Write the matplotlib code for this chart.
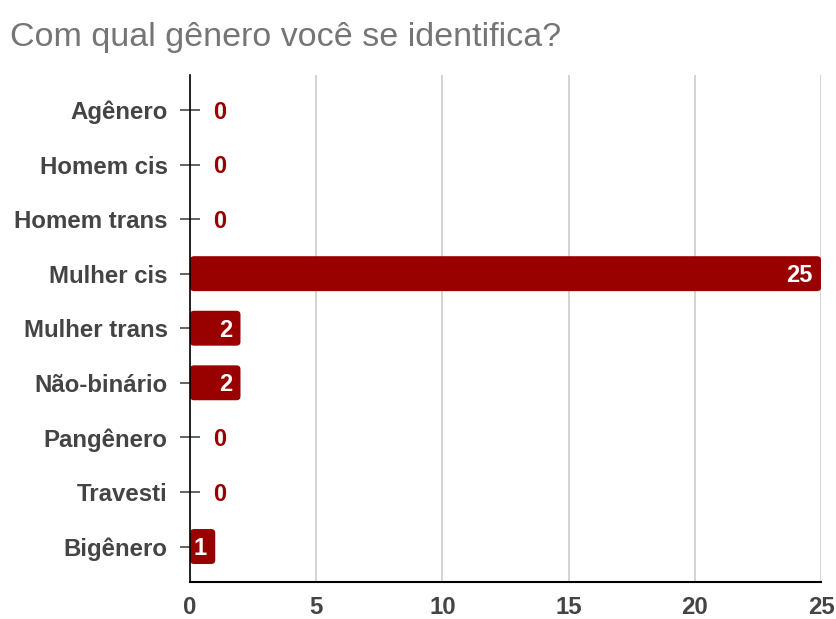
import matplotlib
matplotlib.use("Agg")
import matplotlib.pyplot as plt
from matplotlib.patches import FancyBboxPatch

categories = ["Agênero", "Homem cis", "Homem trans", "Mulher cis", "Mulher trans",
              "Não-binário", "Pangênero", "Travesti", "Bigênero"]
values = [0, 0, 0, 25, 2, 2, 0, 0, 1]
xticks = [0, 5, 10, 15, 20, 25]

bar_color = "#990000"
text_gray = "#444444"
font = "Liberation Sans"

fig = plt.figure(figsize=(8.37, 6.19), dpi=100)
ax = fig.add_axes([0.227, 0.0598, 0.754, 0.819])

pos = list(range(len(categories)))
bars = ax.barh(pos, values, height=0.64, color=bar_color, zorder=3)
ax.set_xlim(0, 25)
ax.set_ylim(8.65, -0.64)

# rounded ends
x_per_px = 25 / (0.754 * 837)
y_per_px = 9.29 / (0.819 * 619)
for b in bars:
    b.set_visible(False)
    if b.get_width() <= 0:
        continue
    rb = FancyBboxPatch((b.get_x(), b.get_y()), b.get_width(), b.get_height(),
                        boxstyle="round,pad=0,rounding_size=%f" % (4 * x_per_px),
                        mutation_aspect=y_per_px / x_per_px,
                        facecolor=bar_color, edgecolor="none", zorder=3)
    ax.add_patch(rb)

for p, v in zip(pos, values):
    if v == 0:
        ax.annotate(str(v), (0, p), xytext=(17, -1.5), textcoords="offset points",
                    ha="left", va="center", color=bar_color, fontsize=17,
                    fontweight="bold", family=font)
    else:
        ax.annotate(str(v), (v, p), xytext=(-6, -1.5), textcoords="offset points",
                    ha="right", va="center", color="white", fontsize=17,
                    fontweight="bold", family=font, zorder=4)

ax.set_yticks(pos)
ax.set_yticklabels(categories, fontsize=17.3, fontweight="bold", family=font, color=text_gray)
ax.set_xticks(xticks)
ax.set_xticklabels([str(t) for t in xticks], fontsize=17.3, fontweight="bold",
                   family=font, color=text_gray)
ax.tick_params(axis="y", direction="inout", length=14, width=1.2, color="#3f4f46", pad=9)
ax.tick_params(axis="x", length=0, pad=10)
ax.grid(axis="x", color="#cccccc", linewidth=1.2, zorder=0)
ax.set_axisbelow(True)
for s in ["top", "right"]:
    ax.spines[s].set_visible(False)
ax.spines["left"].set_color("black")
ax.spines["bottom"].set_color("black")
ax.spines["left"].set_linewidth(1.2)
ax.spines["bottom"].set_linewidth(1.5)
ax.spines["left"].set_zorder(5)

fig.text(0.012, 0.94, "Com qual gênero você se identifica?", fontsize=24.5,
         color="#757575", family=font, ha="left", va="center")

fig.savefig("out.png", dpi=100)
